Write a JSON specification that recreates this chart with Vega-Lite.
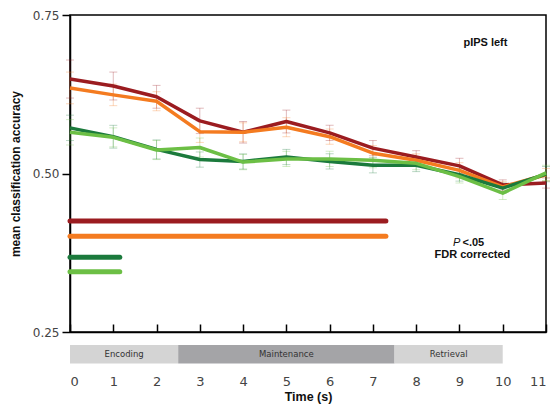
{
  "$schema": "https://vega.github.io/schema/vega-lite/v6.json",
  "width": 476,
  "height": 317,
  "autosize": {"type": "none"},
  "padding": {"left": 70, "top": 15, "right": 6, "bottom": 73},
  "config": {
    "view": {"stroke": "black", "strokeWidth": 1.5},
    "axis": {"domainColor": "black", "domainWidth": 1.5, "tickColor": "black", "tickWidth": 1.5, "grid": false, "labelFont": "DejaVu Sans", "labelColor": "#444", "titleFont": "Liberation Sans", "titleColor": "#111"}
  },
  "datasets": {
    "acc": [
      {"series": "S1", "time": 0, "acc": 0.649, "lo": 0.619, "hi": 0.679},
      {"series": "S1", "time": 1, "acc": 0.638, "lo": 0.616, "hi": 0.660},
      {"series": "S1", "time": 2, "acc": 0.621, "lo": 0.603, "hi": 0.639},
      {"series": "S1", "time": 3, "acc": 0.583, "lo": 0.563, "hi": 0.603},
      {"series": "S1", "time": 4, "acc": 0.565, "lo": 0.548, "hi": 0.582},
      {"series": "S1", "time": 5, "acc": 0.582, "lo": 0.564, "hi": 0.600},
      {"series": "S1", "time": 6, "acc": 0.564, "lo": 0.552, "hi": 0.576},
      {"series": "S1", "time": 7, "acc": 0.540, "lo": 0.528, "hi": 0.552},
      {"series": "S1", "time": 8, "acc": 0.526, "lo": 0.516, "hi": 0.536},
      {"series": "S1", "time": 9, "acc": 0.512, "lo": 0.500, "hi": 0.524},
      {"series": "S1", "time": 10, "acc": 0.482, "lo": 0.474, "hi": 0.490},
      {"series": "S1", "time": 11, "acc": 0.485, "lo": 0.477, "hi": 0.493},
      {"series": "S2", "time": 0, "acc": 0.635, "lo": 0.610, "hi": 0.660},
      {"series": "S2", "time": 1, "acc": 0.624, "lo": 0.607, "hi": 0.641},
      {"series": "S2", "time": 2, "acc": 0.614, "lo": 0.599, "hi": 0.629},
      {"series": "S2", "time": 3, "acc": 0.566, "lo": 0.549, "hi": 0.583},
      {"series": "S2", "time": 4, "acc": 0.565, "lo": 0.550, "hi": 0.580},
      {"series": "S2", "time": 5, "acc": 0.573, "lo": 0.558, "hi": 0.588},
      {"series": "S2", "time": 6, "acc": 0.558, "lo": 0.546, "hi": 0.570},
      {"series": "S2", "time": 7, "acc": 0.532, "lo": 0.520, "hi": 0.544},
      {"series": "S2", "time": 8, "acc": 0.521, "lo": 0.511, "hi": 0.531},
      {"series": "S2", "time": 9, "acc": 0.505, "lo": 0.493, "hi": 0.517},
      {"series": "S2", "time": 10, "acc": 0.479, "lo": 0.471, "hi": 0.487},
      {"series": "S2", "time": 11, "acc": 0.498, "lo": 0.488, "hi": 0.508},
      {"series": "S3", "time": 0, "acc": 0.572, "lo": 0.552, "hi": 0.592},
      {"series": "S3", "time": 1, "acc": 0.558, "lo": 0.540, "hi": 0.576},
      {"series": "S3", "time": 2, "acc": 0.538, "lo": 0.523, "hi": 0.553},
      {"series": "S3", "time": 3, "acc": 0.522, "lo": 0.510, "hi": 0.534},
      {"series": "S3", "time": 4, "acc": 0.519, "lo": 0.507, "hi": 0.531},
      {"series": "S3", "time": 5, "acc": 0.526, "lo": 0.514, "hi": 0.538},
      {"series": "S3", "time": 6, "acc": 0.519, "lo": 0.507, "hi": 0.531},
      {"series": "S3", "time": 7, "acc": 0.513, "lo": 0.501, "hi": 0.525},
      {"series": "S3", "time": 8, "acc": 0.513, "lo": 0.503, "hi": 0.523},
      {"series": "S3", "time": 9, "acc": 0.498, "lo": 0.488, "hi": 0.508},
      {"series": "S3", "time": 10, "acc": 0.477, "lo": 0.469, "hi": 0.485},
      {"series": "S3", "time": 11, "acc": 0.499, "lo": 0.487, "hi": 0.511},
      {"series": "S4", "time": 0, "acc": 0.565, "lo": 0.545, "hi": 0.585},
      {"series": "S4", "time": 1, "acc": 0.557, "lo": 0.542, "hi": 0.572},
      {"series": "S4", "time": 2, "acc": 0.537, "lo": 0.522, "hi": 0.552},
      {"series": "S4", "time": 3, "acc": 0.541, "lo": 0.526, "hi": 0.556},
      {"series": "S4", "time": 4, "acc": 0.518, "lo": 0.506, "hi": 0.530},
      {"series": "S4", "time": 5, "acc": 0.523, "lo": 0.511, "hi": 0.535},
      {"series": "S4", "time": 6, "acc": 0.523, "lo": 0.511, "hi": 0.535},
      {"series": "S4", "time": 7, "acc": 0.521, "lo": 0.509, "hi": 0.533},
      {"series": "S4", "time": 8, "acc": 0.516, "lo": 0.506, "hi": 0.526},
      {"series": "S4", "time": 9, "acc": 0.495, "lo": 0.485, "hi": 0.505},
      {"series": "S4", "time": 10, "acc": 0.469, "lo": 0.459, "hi": 0.479},
      {"series": "S4", "time": 11, "acc": 0.501, "lo": 0.489, "hi": 0.513}
    ],
    "sig": [
      {"series": "S1", "start": 0, "end": 7.3, "level": 0.425},
      {"series": "S2", "start": 0, "end": 7.3, "level": 0.401},
      {"series": "S3", "start": 0, "end": 1.15, "level": 0.368},
      {"series": "S4", "start": 0, "end": 1.15, "level": 0.345}
    ],
    "phases": [
      {"phase": "Encoding", "start": 0, "end": 2.5, "mid": 1.25},
      {"phase": "Maintenance", "start": 2.5, "end": 7.5, "mid": 5},
      {"phase": "Retrieval", "start": 7.5, "end": 10, "mid": 8.75}
    ],
    "notes": [
      {"label": "pIPS left"}
    ]
  },
  "layer": [
    {
      "data": {"name": "acc"},
      "mark": {"type": "rule", "strokeWidth": 1, "opacity": 0.3},
      "encoding": {
        "x": {"field": "time", "type": "quantitative", "scale": {"domain": [0, 11], "nice": false},
          "axis": {"values": [0,1,2,3,4,5,6,7,8,9,10,11], "tickSize": -8, "labelPadding": 51, "labelFontSize": 13, "title": "Time (s)", "titleFontWeight": "bold", "titleFontSize": 12.5, "titlePadding": 2}},
        "y": {"field": "lo", "type": "quantitative", "scale": {"domain": [0.25, 0.75], "nice": false, "zero": false},
          "axis": {"values": [0.25, 0.5, 0.75], "format": ".2f", "tickSize": 8, "labelPadding": 3, "labelFontSize": 12, "title": "mean classification accuracy", "titleFontWeight": "bold", "titleFontSize": 12, "titlePadding": 10}},
        "y2": {"field": "hi"},
        "color": {"field": "series", "type": "nominal", "scale": {"domain": ["S1", "S2", "S3", "S4"], "range": ["#9b1c20", "#f47b20", "#1b7a3c", "#6cbf45"]}, "legend": null}
      }
    },
    {
      "data": {"name": "acc"},
      "mark": {"type": "tick", "orient": "horizontal", "size": 8, "thickness": 1, "opacity": 0.3},
      "encoding": {
        "x": {"field": "time", "type": "quantitative"},
        "y": {"field": "lo", "type": "quantitative"},
        "color": {"field": "series", "type": "nominal", "legend": null}
      }
    },
    {
      "data": {"name": "acc"},
      "mark": {"type": "tick", "orient": "horizontal", "size": 8, "thickness": 1, "opacity": 0.3},
      "encoding": {
        "x": {"field": "time", "type": "quantitative"},
        "y": {"field": "hi", "type": "quantitative"},
        "color": {"field": "series", "type": "nominal", "legend": null}
      }
    },
    {
      "data": {"name": "acc"},
      "mark": {"type": "line", "strokeWidth": 3.5, "strokeJoin": "round"},
      "encoding": {
        "x": {"field": "time", "type": "quantitative"},
        "y": {"field": "acc", "type": "quantitative"},
        "color": {"field": "series", "type": "nominal", "legend": null}
      }
    },
    {
      "mark": {"type": "rule", "color": "black", "strokeWidth": 1.5, "strokeDash": [2, 2]},
      "encoding": {"y": {"datum": 0.5}}
    },
    {
      "data": {"name": "sig"},
      "mark": {"type": "rule", "strokeWidth": 5, "strokeCap": "round"},
      "encoding": {
        "x": {"field": "start", "type": "quantitative"},
        "x2": {"field": "end"},
        "y": {"field": "level", "type": "quantitative"},
        "color": {"field": "series", "type": "nominal", "legend": null}
      }
    },
    {
      "data": {"name": "phases"},
      "mark": {"type": "rect"},
      "encoding": {
        "x": {"field": "start", "type": "quantitative"},
        "x2": {"field": "end"},
        "y": {"datum": 0.2295},
        "y2": {"datum": 0.2005},
        "fill": {"field": "phase", "type": "nominal", "scale": {"domain": ["Encoding", "Maintenance", "Retrieval"], "range": ["#d4d4d4", "#a4a4a7", "#d4d4d4"]}, "legend": null}
      }
    },
    {
      "data": {"name": "phases"},
      "mark": {"type": "text", "font": "DejaVu Sans", "fontSize": 8.5, "color": "#333", "baseline": "middle"},
      "encoding": {
        "x": {"field": "mid", "type": "quantitative"},
        "y": {"datum": 0.215},
        "text": {"field": "phase"}
      }
    },
    {
      "data": {"name": "notes"},
      "mark": {"type": "text", "font": "Liberation Sans", "fontWeight": "bold", "fontSize": 11, "color": "#111", "baseline": "middle"},
      "encoding": {"x": {"datum": 9.6}, "y": {"datum": 0.706}, "text": {"field": "label"}}
    },
    {
      "data": {"name": "notes"},
      "mark": {"type": "text", "font": "Liberation Sans", "fontStyle": "italic", "fontSize": 11, "color": "#111", "baseline": "middle", "align": "right"},
      "encoding": {"x": {"datum": 9.02}, "y": {"datum": 0.39}, "text": {"value": "P"}}
    },
    {
      "data": {"name": "notes"},
      "mark": {"type": "text", "font": "Liberation Sans", "fontWeight": "bold", "fontSize": 11, "color": "#111", "baseline": "middle", "align": "left"},
      "encoding": {"x": {"datum": 9.07}, "y": {"datum": 0.39}, "text": {"value": "<.05"}}
    },
    {
      "data": {"name": "notes"},
      "mark": {"type": "text", "font": "Liberation Sans", "fontWeight": "bold", "fontSize": 11, "color": "#111", "baseline": "middle"},
      "encoding": {"x": {"datum": 9.3}, "y": {"datum": 0.3715}, "text": {"value": "FDR corrected"}}
    }
  ]
}
